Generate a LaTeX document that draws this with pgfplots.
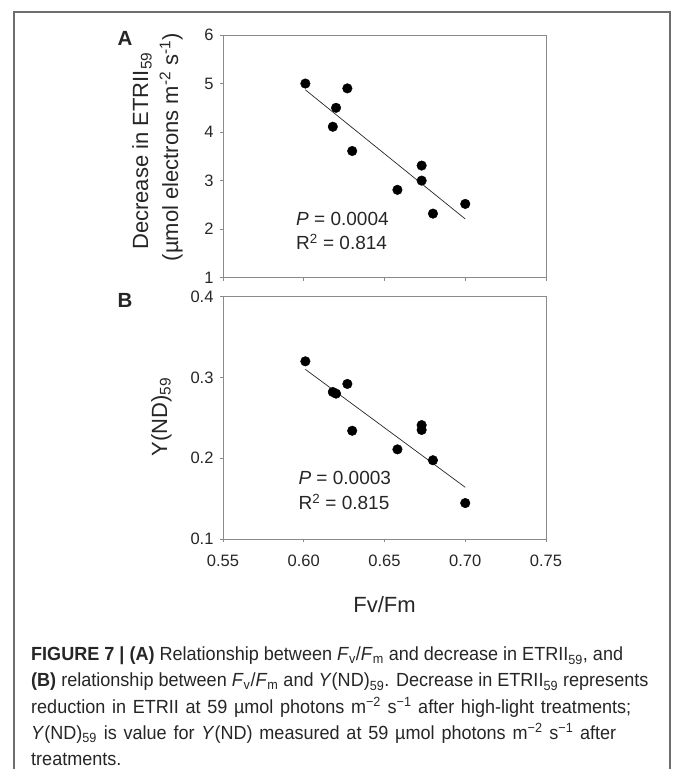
\documentclass[border=0pt]{standalone}
\usepackage{pgfplots}
\pgfplotsset{compat=1.18}
\usepackage{fontspec}
\setmainfont{Liberation Sans}
\newfontfamily\capfont[FakeStretch=0.95]{Liberation Sans}
\definecolor{axgray}{HTML}{8A8A8A}
\definecolor{txt}{HTML}{262626}
\definecolor{frame}{HTML}{6E6E6E}

\pgfplotsset{myax/.style={
  scale only axis, width=323pt,
  xmin=0.55, xmax=0.75, xtick={0.55,0.60,0.65,0.70,0.75},
  axis line style={axgray, line width=0.9pt},
  tick style={axgray, line width=0.9pt},
  major tick length=3pt, tick align=outside, tick pos=left,
  tick label style={font=\fontsize{16.5}{18}\selectfont, text=txt},
  xticklabel style={yshift=-9pt},
  yticklabel style={xshift=-3pt},
  /pgf/number format/assume math mode=true,
}}

\begin{document}
\begin{tikzpicture}
\useasboundingbox (0pt,0pt) rectangle (673pt,769pt);
\draw[frame, line width=1.3pt] (14pt,0pt) -- (14pt,757pt) -- (670pt,757pt) -- (670pt,0pt);

% Panel A
\begin{axis}[myax, at={(223pt,491.3pt)}, anchor=south west, height=242.7pt,
  ymin=1, ymax=6, ytick={1,2,3,4,5,6}, xticklabels={}]
\addplot[only marks, mark=*, mark size=4.8pt, black] coordinates {
 (0.601,5.00) (0.627,4.90) (0.620,4.50) (0.618,4.11) (0.630,3.61)
 (0.658,2.81) (0.673,3.31) (0.673,3.00) (0.680,2.32) (0.700,2.52)};
\addplot[black!85, line width=0.7pt] coordinates {(0.601,4.87) (0.700,2.21)};
\end{axis}

% Panel B
\begin{axis}[myax, at={(223pt,230pt)}, anchor=south west, height=242.3pt,
  ymin=0.1, ymax=0.4, ytick={0.1,0.2,0.3,0.4},
  xticklabel style={/pgf/number format/fixed, /pgf/number format/fixed zerofill, /pgf/number format/precision=2},
  yticklabel style={/pgf/number format/fixed, /pgf/number format/fixed zerofill, /pgf/number format/precision=1}]
\addplot[only marks, mark=*, mark size=4.8pt, black] coordinates {
 (0.601,0.320) (0.618,0.282) (0.620,0.280) (0.627,0.292) (0.630,0.234)
 (0.658,0.211) (0.673,0.241) (0.673,0.235) (0.680,0.1975) (0.700,0.1445)};
\addplot[black!85, line width=0.7pt] coordinates {(0.601,0.310) (0.700,0.164)};
\end{axis}

% labels
\begin{scope}[every node/.style={text=txt}]
\node[font=\bfseries\fontsize{20.5}{22}\selectfont, anchor=base] at (125pt,723pt) {A};
\node[font=\bfseries\fontsize{20.5}{22}\selectfont, anchor=base] at (125pt,461pt) {B};
\node[font=\fontsize{22}{26}\selectfont, rotate=90, anchor=base] at (148pt,618pt) {Decrease in ETRII\textsubscript{59}};
\node[font=\fontsize{22}{26}\selectfont, rotate=90, anchor=base] at (178pt,622pt) {(µmol electrons m\textsuperscript{-2} s\textsuperscript{-1})};
\node[font=\fontsize{22}{26}\selectfont, rotate=90, anchor=base] at (167pt,352pt) {Y(ND)\textsubscript{59}};
\node[font=\fontsize{22}{26}\selectfont, anchor=base] at (384.5pt,156pt) {Fv/Fm};
\node[font=\fontsize{19}{22}\selectfont, anchor=base west] at (292.7pt,543pt) {\textit{P} = 0.0004};
\node[font=\fontsize{19}{22}\selectfont, anchor=base west] at (292.7pt,519.7pt) {R\textsuperscript{2} = 0.814};
\node[font=\fontsize{19}{22}\selectfont, anchor=base west] at (295pt,284pt) {\textit{P} = 0.0003};
\node[font=\fontsize{19}{22}\selectfont, anchor=base west] at (295pt,259.7pt) {R\textsuperscript{2} = 0.815};
\end{scope}

% caption
\begin{scope}[every node/.style={anchor=base west, inner sep=0pt, text=txt, font=\capfont\fontsize{19}{22}\selectfont}]
\node at (31pt,108pt) {\textbf{FIGURE 7 | (A)} Relationship between \textit{F}\textsubscript{v}/\textit{F}\textsubscript{m} and decrease in ETRII\textsubscript{59}, and};
\node at (31pt,82pt) {\textbf{(B)} relationship between \textit{F}\textsubscript{v}/\textit{F}\textsubscript{m} and \textit{Y}(ND)\textsubscript{59}. Decrease in ETRII\textsubscript{59} represents};
\node at (31pt,56pt) {\hbox to 600pt{reduction in ETRII at 59 µmol photons m\textsuperscript{−2} s\textsuperscript{−1} after high-light treatments;}};
\node at (31pt,30pt) {\hbox to 585pt{\textit{Y}(ND)\textsubscript{59} is value for \textit{Y}(ND) measured at 59 µmol photons m\textsuperscript{−2} s\textsuperscript{−1} after}};
\node at (31pt,4pt) {treatments.};
\end{scope}
\end{tikzpicture}
\end{document}
